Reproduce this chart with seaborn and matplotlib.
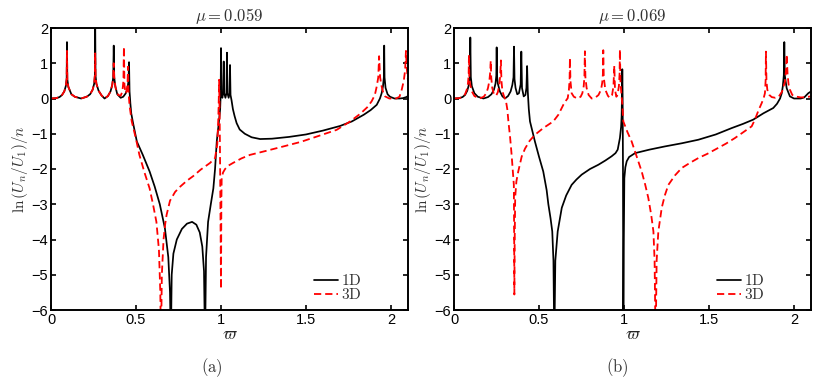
import matplotlib
matplotlib.use('Agg')
import matplotlib.pyplot as plt
import pandas as pd
import seaborn as sns

# (omega, ln(Un/U1)/n), panel (a): mu = 0.059
a_1d = [(0.00, 0.00), (0.03, 0.01), (0.05, 0.04), (0.065, 0.10), (0.078, 0.20), (0.087, 0.35),
        (0.092, 0.55), (0.094, 1.60), (0.096, 0.55), (0.102, 0.33), (0.12, 0.12), (0.14, 0.05),
        (0.177, 0.00), (0.21, 0.05), (0.23, 0.12), (0.245, 0.25), (0.254, 0.42), (0.258, 0.65),
        (0.26, 2.20), (0.262, 0.65), (0.267, 0.42), (0.28, 0.22), (0.297, 0.09), (0.315, 0.00),
        (0.335, 0.07), (0.35, 0.20), (0.36, 0.38), (0.366, 0.60), (0.369, 1.50), (0.372, 0.60),
        (0.378, 0.35), (0.39, 0.12), (0.41, 0.02), (0.425, 0.05), (0.44, 0.15), (0.45, 0.30),
        (0.456, 0.50), (0.459, 1.03), (0.462, 0.20), (0.467, -0.15), (0.472, -0.42), (0.482, -0.68),
        (0.505, -1.22), (0.54, -1.60), (0.58, -2.07), (0.61, -2.50), (0.64, -3.00), (0.67, -3.68),
        (0.69, -4.50), (0.70, -5.50), (0.705, -7.00), (0.71, -5.00), (0.72, -4.40), (0.74, -4.00),
        (0.77, -3.70), (0.80, -3.55), (0.83, -3.50), (0.855, -3.58), (0.875, -3.80), (0.89, -4.20),
        (0.90, -4.90), (0.906, -7.00), (0.912, -4.50), (0.924, -3.50), (0.94, -3.00), (0.955, -2.55),
        (0.965, -2.00), (0.975, -1.22), (0.988, -0.65), (0.995, -0.30), (0.998, 0.10), (1.000, 1.43),
        (1.003, 0.10), (1.008, 0.02), (1.013, 0.15), (1.016, 1.05), (1.019, 0.15), (1.026, 0.02),
        (1.032, 0.15), (1.035, 1.30), (1.038, 0.15), (1.045, 0.02), (1.05, 0.15), (1.053, 0.95),
        (1.056, 0.10), (1.062, -0.05), (1.07, -0.30), (1.08, -0.50), (1.092, -0.70), (1.11, -0.88),
        (1.14, -1.00), (1.18, -1.10), (1.23, -1.15), (1.30, -1.14), (1.40, -1.09), (1.50, -1.02),
        (1.60, -0.91), (1.70, -0.78), (1.77, -0.65), (1.84, -0.46), (1.88, -0.33), (1.916, -0.18),
        (1.935, 0.00), (1.945, 0.15), (1.953, 0.35), (1.958, 0.60), (1.96, 1.50), (1.962, 0.60),
        (1.968, 0.30), (1.98, 0.12), (1.994, 0.05), (2.02, 0.00), (2.05, 0.00), (2.07, 0.01),
        (2.09, 0.04), (2.10, 0.07)]

a_3d = [(0.00, 0.00), (0.03, 0.01), (0.05, 0.04), (0.065, 0.10), (0.078, 0.20), (0.087, 0.35),
        (0.092, 0.55), (0.094, 1.35), (0.096, 0.55), (0.102, 0.33), (0.12, 0.12), (0.14, 0.05),
        (0.177, 0.00), (0.21, 0.05), (0.23, 0.12), (0.245, 0.25), (0.254, 0.42), (0.258, 0.65),
        (0.26, 1.28), (0.262, 0.65), (0.267, 0.42), (0.28, 0.22), (0.297, 0.09), (0.315, 0.00),
        (0.335, 0.07), (0.35, 0.20), (0.36, 0.38), (0.366, 0.60), (0.369, 1.00), (0.372, 0.60),
        (0.38, 0.30), (0.395, 0.10), (0.41, 0.08), (0.42, 0.20), (0.426, 0.50), (0.429, 1.47),
        (0.432, 0.40), (0.438, 0.15), (0.445, 0.20), (0.45, 0.40), (0.453, 0.90), (0.456, 0.20),
        (0.462, -0.20), (0.475, -0.65), (0.50, -1.15), (0.52, -1.60), (0.55, -2.10), (0.58, -2.55),
        (0.60, -3.00), (0.62, -3.50), (0.635, -4.30), (0.643, -5.50), (0.647, -7.00), (0.652, -5.00),
        (0.662, -4.00), (0.672, -3.55), (0.68, -3.30), (0.70, -2.90), (0.73, -2.65), (0.76, -2.50),
        (0.80, -2.33), (0.837, -2.20), (0.88, -2.02), (0.935, -1.83), (0.965, -1.69), (0.978, -1.30),
        (0.984, -0.60), (0.987, 0.00), (0.989, 0.53), (0.992, -0.50), (0.995, -2.00), (0.998, -4.00),
        (1.000, -5.40), (1.002, -3.00), (1.004, -2.26), (1.012, -2.10), (1.024, -2.00), (1.045, -1.90),
        (1.07, -1.83), (1.12, -1.70), (1.17, -1.60), (1.27, -1.48), (1.367, -1.36), (1.47, -1.23),
        (1.563, -1.08), (1.68, -0.89), (1.76, -0.65), (1.82, -0.43), (1.86, -0.25), (1.886, -0.08),
        (1.905, 0.10), (1.916, 0.34), (1.925, 0.60), (1.93, 1.20), (1.936, 0.60), (1.945, 0.34),
        (1.955, 0.15), (1.965, 0.06), (1.99, 0.00), (2.03, 0.00), (2.05, 0.05), (2.063, 0.25),
        (2.075, 0.50), (2.083, 0.80), (2.088, 1.35), (2.092, 0.90), (2.10, 0.50)]

# panel (b): mu = 0.069
b_1d = [(0.00, 0.00), (0.03, 0.01), (0.05, 0.04), (0.065, 0.10), (0.078, 0.22), (0.087, 0.38),
        (0.093, 0.60), (0.096, 1.73), (0.099, 0.60), (0.105, 0.35), (0.12, 0.15), (0.14, 0.05),
        (0.173, 0.00), (0.20, 0.04), (0.22, 0.12), (0.235, 0.25), (0.244, 0.42), (0.249, 0.65),
        (0.251, 1.45), (0.253, 0.65), (0.258, 0.42), (0.27, 0.20), (0.285, 0.06), (0.30, 0.00),
        (0.318, 0.07), (0.333, 0.20), (0.343, 0.38), (0.35, 0.60), (0.353, 1.47), (0.356, 0.55),
        (0.362, 0.30), (0.372, 0.12), (0.382, 0.15), (0.392, 0.40), (0.396, 1.33), (0.40, 0.30),
        (0.41, 0.06), (0.42, 0.10), (0.426, 0.30), (0.43, 0.92), (0.434, 0.20), (0.44, -0.30),
        (0.447, -0.65), (0.476, -1.22), (0.50, -1.65), (0.525, -2.07), (0.545, -2.60), (0.555, -3.00),
        (0.568, -3.40), (0.578, -3.77), (0.585, -4.60), (0.59, -7.00), (0.596, -4.60), (0.61, -3.77),
        (0.634, -3.10), (0.66, -2.75), (0.692, -2.45), (0.72, -2.30), (0.751, -2.16), (0.80, -2.00),
        (0.849, -1.88), (0.89, -1.76), (0.927, -1.64), (0.95, -1.55), (0.963, -1.45), (0.976, -1.12),
        (0.983, -0.80), (0.986, -0.50), (0.988, 0.00), (0.99, 0.83), (0.992, 0.00), (0.994, -2.00),
        (0.996, -7.00), (0.999, -4.00), (1.002, -2.26), (1.008, -1.95), (1.016, -1.78), (1.03, -1.66),
        (1.065, -1.55), (1.15, -1.45), (1.24, -1.36), (1.34, -1.27), (1.437, -1.17), (1.54, -1.02),
        (1.633, -0.84), (1.70, -0.72), (1.76, -0.60), (1.82, -0.42), (1.878, -0.27), (1.90, -0.15),
        (1.918, 0.00), (1.928, 0.15), (1.934, 0.34), (1.94, 0.65), (1.943, 1.60), (1.946, 0.65),
        (1.957, 0.29), (1.976, 0.06), (2.00, 0.00), (2.04, 0.00), (2.06, 0.03), (2.084, 0.15),
        (2.10, 0.20)]

b_3d = [(0.00, 0.00), (0.03, 0.01), (0.05, 0.04), (0.065, 0.12), (0.075, 0.25), (0.082, 0.42),
        (0.086, 0.65), (0.088, 1.24), (0.09, 0.60), (0.095, 0.40), (0.105, 0.20), (0.12, 0.07),
        (0.15, 0.00), (0.175, 0.05), (0.19, 0.15), (0.20, 0.30), (0.208, 0.50), (0.213, 0.75),
        (0.216, 1.07), (0.219, 0.60), (0.225, 0.30), (0.235, 0.12), (0.248, 0.08), (0.258, 0.18),
        (0.266, 0.38), (0.272, 0.65), (0.276, 1.08), (0.279, 0.50), (0.285, 0.20), (0.295, 0.05),
        (0.305, -0.05), (0.314, -0.32), (0.32, -0.65), (0.33, -1.10), (0.339, -1.60), (0.347, -2.10),
        (0.352, -2.45), (0.354, -4.00), (0.355, -5.56), (0.357, -4.00), (0.36, -2.80), (0.367, -2.35),
        (0.378, -2.07), (0.398, -1.65), (0.418, -1.42), (0.445, -1.20), (0.476, -1.03), (0.525, -0.84),
        (0.584, -0.65), (0.614, -0.46), (0.643, -0.18), (0.66, -0.05), (0.669, 0.01), (0.676, 0.25),
        (0.68, 0.55), (0.682, 1.15), (0.685, 0.50), (0.692, 0.15), (0.705, 0.05), (0.726, 0.00),
        (0.745, 0.05), (0.755, 0.15), (0.763, 0.35), (0.767, 0.60), (0.77, 1.34), (0.773, 0.60),
        (0.78, 0.30), (0.792, 0.10), (0.81, 0.00), (0.83, 0.02), (0.85, 0.10), (0.865, 0.25),
        (0.872, 0.45), (0.876, 0.70), (0.878, 1.37), (0.881, 0.60), (0.89, 0.25), (0.905, 0.08),
        (0.915, 0.02), (0.93, 0.10), (0.938, 0.35), (0.943, 0.93), (0.947, 0.25), (0.955, 0.05),
        (0.962, 0.10), (0.97, 0.35), (0.974, 0.70), (0.976, 1.39), (0.979, 0.50), (0.985, 0.10),
        (0.99, -0.15), (0.996, -0.65), (1.02, -0.95), (1.045, -1.22), (1.075, -1.65), (1.104, -2.07),
        (1.125, -2.45), (1.143, -2.82), (1.16, -3.30), (1.173, -3.77), (1.18, -4.60), (1.186, -7.00),
        (1.192, -4.60), (1.202, -3.77), (1.222, -3.10), (1.24, -2.75), (1.261, -2.45), (1.30, -2.18),
        (1.34, -1.97), (1.39, -1.82), (1.437, -1.69), (1.49, -1.57), (1.535, -1.45), (1.60, -1.28),
        (1.653, -1.12), (1.70, -0.96), (1.751, -0.79), (1.77, -0.60), (1.79, -0.35), (1.81, -0.13),
        (1.822, 0.02), (1.829, 0.15), (1.833, 0.50), (1.835, 1.33), (1.838, 0.50), (1.843, 0.25),
        (1.855, 0.10), (1.869, 0.04), (1.89, 0.02), (1.91, 0.05), (1.93, 0.20), (1.947, 0.48),
        (1.953, 0.80), (1.957, 1.25), (1.962, 0.70), (1.968, 0.40), (1.976, 0.25), (1.99, 0.10),
        (2.006, 0.06), (2.04, 0.03), (2.07, 0.04), (2.10, 0.06)]

mu_values = ['0.059', '0.069']
panel_tags = ['(a)', '(b)']
x_ticks = [0, 0.5, 1, 1.5, 2]
x_tick_labels = ['0', '0.5', '1', '1.5', '2']
y_ticks = [-6, -5, -4, -3, -2, -1, 0, 1, 2]

sns.set_theme(style='ticks')
plt.rcParams.update({
    'font.family': ['Liberation Sans', 'DejaVu Sans'],
    'mathtext.fontset': 'cm',
    'axes.edgecolor': 'black',
    'axes.linewidth': 1.4,
    'xtick.direction': 'in',
    'ytick.direction': 'in',
    'xtick.top': True,
    'ytick.right': True,
    'xtick.major.size': 3.5,
    'ytick.major.size': 3.5,
    'xtick.major.width': 1.2,
    'ytick.major.width': 1.2,
    'xtick.color': 'black',
    'ytick.color': 'black',
    'xtick.labelsize': 10.5,
    'ytick.labelsize': 10.5,
})


def to_frame(points):
    return pd.DataFrame(points, columns=['omega', 'lnU'])


panels = [(a_1d, a_3d), (b_1d, b_3d)]
lefts = [51 / 830, 454 / 830]
tag_x = [212 / 830, 617 / 830]

fig = plt.figure(figsize=(8.3, 3.84), dpi=100)

for i, (one_d, three_d) in enumerate(panels):
    ax = fig.add_axes([lefts[i], 74 / 384, 357 / 830, 282 / 384])
    d1 = to_frame(one_d)
    d3 = to_frame(three_d)
    sns.lineplot(data=d1, x='omega', y='lnU', sort=False, estimator=None,
                 color='black', lw=1.25, ax=ax, label=r'$\mathrm{1D}$')
    sns.lineplot(data=d3, x='omega', y='lnU', sort=False, estimator=None,
                 color='red', lw=1.3, linestyle=(0, (4, 2.2)), ax=ax, label=r'$\mathrm{3D}$')

    ax.set_xlim(0, 2.1)
    ax.set_ylim(-6, 2)
    ax.set_xticks(x_ticks)
    ax.set_xticklabels(x_tick_labels)
    ax.set_yticks(y_ticks)
    ax.tick_params(pad=2)
    ax.set_xlabel(r'$\varpi$', fontsize=12, labelpad=0)
    ax.set_ylabel(r'$\ln\left(U_n/U_1\right)/n$', fontsize=11, labelpad=1, color='#333333')
    ax.set_title(r'$\mu = ' + mu_values[i] + '$', fontsize=12, pad=5, color='#333333')

    leg = ax.legend(loc='lower right', bbox_to_anchor=(0.9, -0.01), frameon=False,
                    fontsize=11, handlelength=1.6, handletextpad=0.2, labelspacing=-0.05,
                    borderpad=0.2)
    for txt in leg.get_texts():
        txt.set_color('#333333')

    fig.text(tag_x[i], 1 - 368 / 384, r'$\mathrm{' + panel_tags[i] + '}$',
             ha='center', va='center', fontsize=12, color='#333333')

fig.savefig('out.png', dpi=100)
